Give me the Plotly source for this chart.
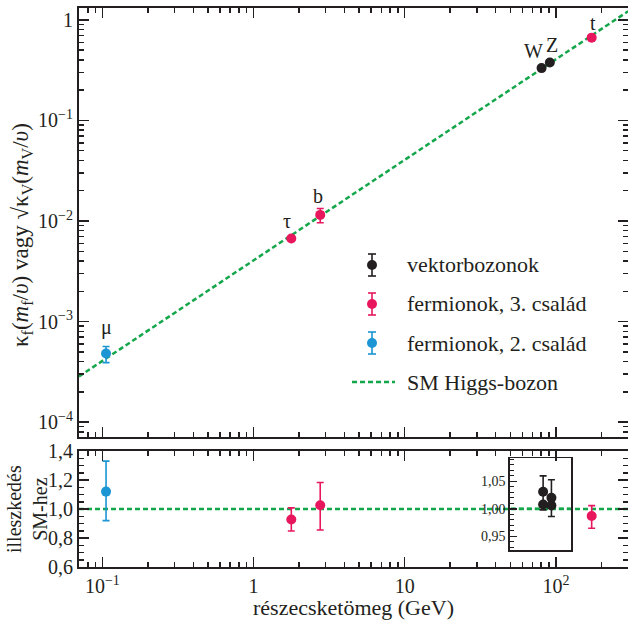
import math
import plotly.graph_objects as go

# ---------------- data ----------------
f2_mass = [0.1057]
f2_coupling = [4.8e-4]
f2_cpl_plus = [0.85e-4]
f2_cpl_minus = [0.9e-4]
f2_ratio = [1.12]
f2_ratio_plus = [0.21]
f2_ratio_minus = [0.20]
f2_names = ["μ"]

f3_mass = [1.777, 2.76, 172.5]
f3_coupling = [6.7e-3, 1.15e-2, 0.667]
f3_cpl_plus = [0.3e-3, 0.18e-2, 0.03]
f3_cpl_minus = [0.3e-3, 0.19e-2, 0.03]
f3_ratio = [0.928, 1.026, 0.952]
f3_ratio_plus = [0.08, 0.157, 0.071]
f3_ratio_minus = [0.08, 0.171, 0.085]
f3_names = ["τ", "b", "t"]

v_mass = [80.4, 91.2]
v_coupling = [0.332, 0.377]
v_cpl_err = [0.004, 0.004]
v_ratio_upper = [1.031, 1.020]
v_ratio_upper_plus = [0.029, 0.033]
v_ratio_upper_minus = [0.033, 0.034]
v_ratio_lower = [1.008, 1.006]
v_names = ["W", "Z"]

sm_mass = [0.07, 300]
sm_coupling = [2.84e-4, 1.218]
sm_ratio = [1.0, 1.0]

legend_names = ["vektorbozonok", "fermionok, 3. család", "fermionok, 2. család", "SM Higgs-bozon"]

x_tickvals = [0.1, 1, 10, 100]
x_ticktext = ["10<sup>−1</sup>", "1", "10", "10<sup>2</sup>"]
y_tickvals = [1e-4, 1e-3, 1e-2, 1e-1, 1]
y_ticktext = ["10<sup>−4</sup>", "10<sup>−3</sup>", "10<sup>−2</sup>", "10<sup>−1</sup>", "1"]
r_tickvals = [0.6, 0.8, 1.0, 1.2, 1.4]
r_ticktext = ["0,6", "0,8", "1,0", "1,2", "1,4"]
i_tickvals = [0.95, 1.00, 1.05]
i_ticktext = ["0,95", "1,00", "1,05"]

# ---------------- style ----------------
BLACK = "#231f20"
RED = "#e8175d"
BLUE = "#1b95d4"
GREEN = "#14a64a"
FONT = "Liberation Serif"
W, H = 628, 625
DASH = "5px,3px"

x_minor = [m * 10 ** e for e in range(-2, 3) for m in range(2, 10) if 0.07 < m * 10 ** e < 300]
y_minor = [m * 10 ** e for e in range(-5, 1) for m in range(2, 10) if 7e-5 < m * 10 ** e < 1.3]

def err(plus, minus, color):
    return dict(type="data", symmetric=False, array=plus, arrayminus=minus,
                color=color, thickness=1.6, width=3.5)

fig = go.Figure()

# SM reference lines
for xa, ya, ys in [("x", "y", sm_coupling), ("x2", "y2", sm_ratio), ("x3", "y3", sm_ratio)]:
    fig.add_trace(go.Scatter(x=sm_mass, y=ys, mode="lines", showlegend=False,
                             line=dict(color=GREEN, width=2.5, dash=DASH),
                             xaxis=xa, yaxis=ya))

# main panel points
fig.add_trace(go.Scatter(x=v_mass, y=v_coupling, mode="markers", name=legend_names[0],
                         marker=dict(color=BLACK, size=10), showlegend=False,
                         error_y=err(v_cpl_err, v_cpl_err, BLACK), xaxis="x", yaxis="y"))
fig.add_trace(go.Scatter(x=f3_mass, y=f3_coupling, mode="markers", name=legend_names[1],
                         marker=dict(color=RED, size=10), showlegend=False,
                         error_y=err(f3_cpl_plus, f3_cpl_minus, RED), xaxis="x", yaxis="y"))
fig.add_trace(go.Scatter(x=f2_mass, y=f2_coupling, mode="markers", name=legend_names[2],
                         marker=dict(color=BLUE, size=10), showlegend=False,
                         error_y=err(f2_cpl_plus, f2_cpl_minus, BLUE), xaxis="x", yaxis="y"))

# ratio panel points
fig.add_trace(go.Scatter(x=f3_mass, y=f3_ratio, mode="markers", showlegend=False,
                         marker=dict(color=RED, size=10),
                         error_y=err(f3_ratio_plus, f3_ratio_minus, RED),
                         xaxis="x2", yaxis="y2"))
fig.add_trace(go.Scatter(x=f2_mass, y=f2_ratio, mode="markers", showlegend=False,
                         marker=dict(color=BLUE, size=10),
                         error_y=err(f2_ratio_plus, f2_ratio_minus, BLUE),
                         xaxis="x2", yaxis="y2"))

# inset points
fig.add_trace(go.Scatter(x=v_mass, y=v_ratio_upper, mode="markers", showlegend=False,
                         marker=dict(color=BLACK, size=10),
                         error_y=err(v_ratio_upper_plus, v_ratio_upper_minus, BLACK),
                         xaxis="x3", yaxis="y3"))
fig.add_trace(go.Scatter(x=v_mass, y=v_ratio_lower, mode="markers", showlegend=False,
                         marker=dict(color=BLACK, size=10),
                         xaxis="x3", yaxis="y3"))

# particle labels
label_shift = {"μ": (0, 26), "τ": (-4, 17), "b": (-2, 19), "t": (1, 15), "W": (-8, 17), "Z": (2, 18)}
for names, xs, ys in [(f2_names, f2_mass, f2_coupling), (f3_names, f3_mass, f3_coupling),
                      (v_names, v_mass, v_coupling)]:
    for n, xv, yv in zip(names, xs, ys):
        dx, dy = label_shift[n]
        fig.add_annotation(x=math.log10(xv), y=math.log10(yv), xref="x", yref="y", text=n,
                           showarrow=False, xshift=dx, yshift=dy,
                           xanchor="center", yanchor="middle",
                           font=dict(family=FONT, size=20, color=BLACK))

# ---------------- hand-drawn legend (symbols with error bars, like the reference) ----------------
def px(x):
    return x / W

def py(y):
    return 1 - y / H

LEG_X, LEG_TX, LEG_ROW0, LEG_DY = 372, 405, 265, 39
shapes = []
for i, (name, col) in enumerate(zip(legend_names, [BLACK, RED, BLUE, None])):
    yc = LEG_ROW0 + i * LEG_DY
    if col is not None:
        shapes.append(dict(type="line", xref="paper", yref="paper", x0=px(LEG_X), x1=px(LEG_X),
                           y0=py(yc - 11), y1=py(yc + 11), line=dict(color=col, width=1.6)))
        for yy in (yc - 11, yc + 11):
            shapes.append(dict(type="line", xref="paper", yref="paper", x0=px(LEG_X - 4),
                               x1=px(LEG_X + 4), y0=py(yy), y1=py(yy),
                               line=dict(color=col, width=1.6)))
        shapes.append(dict(type="circle", xref="paper", yref="paper", x0=px(LEG_X - 5),
                           x1=px(LEG_X + 5), y0=py(yc + 5), y1=py(yc - 5),
                           fillcolor=col, line=dict(color=col, width=0)))
    else:
        shapes.append(dict(type="line", xref="paper", yref="paper", x0=px(352), x1=px(395),
                           y0=py(yc), y1=py(yc), line=dict(color=GREEN, width=2.5, dash=DASH)))
    fig.add_annotation(x=px(LEG_TX), y=py(yc), xref="paper", yref="paper", text=name,
                       showarrow=False, xanchor="left", yanchor="middle",
                       font=dict(family=FONT, size=22, color=BLACK))

# axis titles
fig.add_annotation(x=px(22), y=py(235), xref="paper", yref="paper", textangle=-90,
                   xanchor="center", yanchor="middle",
                   text="κ<sub>f</sub>(<i>m</i><sub>f</sub>/<i>υ</i>) vagy √κ<sub>V</sub>(<i>m</i><sub>V</sub>/<i>υ</i>)",
                   showarrow=False, font=dict(family=FONT, size=23, color=BLACK))
fig.add_annotation(x=px(27), y=py(509), xref="paper", yref="paper", textangle=-90,
                   xanchor="center", yanchor="middle",
                   text="illeszkedés<br>SM-hez", showarrow=False,
                   font=dict(family=FONT, size=20, color=BLACK))
fig.add_annotation(x=px(353), y=py(607), xref="paper", yref="paper",
                   xanchor="center", yanchor="middle",
                   text="részecsketömeg (GeV)", showarrow=False,
                   font=dict(family=FONT, size=22, color=BLACK))

xrange = [math.log10(0.07), math.log10(300)]
xdom = [79 / W, 1.0]
common = dict(showline=True, linecolor=BLACK, linewidth=2, ticks="inside", tickcolor=BLACK,
              tickwidth=1.5, ticklen=10, showgrid=False, zeroline=False, automargin=False,
              tickfont=dict(family=FONT, size=20, color=BLACK))

fig.update_layout(
    width=W, height=H, margin=dict(l=0, r=0, t=0, b=0, autoexpand=False),
    paper_bgcolor="white", plot_bgcolor="rgba(0,0,0,0)",
    font=dict(family=FONT, color=BLACK),
    showlegend=False, shapes=shapes,
    xaxis=dict(common, type="log", range=xrange, domain=xdom, anchor="y", mirror="allticks",
               tickvals=x_tickvals, ticktext=x_ticktext, showticklabels=False,
               minor=dict(tickmode="array", tickvals=x_minor, ticks="inside", ticklen=5,
                          tickcolor=BLACK, tickwidth=1.5)),
    yaxis=dict(common, type="log", range=[-4.149, 0.119], domain=[1 - 437 / H, 1 - 8 / H],
               anchor="x", mirror="allticks", tickvals=y_tickvals, ticktext=y_ticktext,
               minor=dict(tickmode="array", tickvals=y_minor, ticks="inside", ticklen=5,
                          tickcolor=BLACK, tickwidth=1.5)),
    xaxis2=dict(common, type="log", range=xrange, domain=xdom, anchor="y2", mirror="allticks",
                tickvals=x_tickvals, ticktext=x_ticktext,
                minor=dict(tickmode="array", tickvals=x_minor, ticks="inside", ticklen=5,
                           tickcolor=BLACK, tickwidth=1.5)),
    yaxis2=dict(common, range=[0.6, 1.4], domain=[1 - 567 / H, 1 - 451 / H], anchor="x2",
                mirror="allticks", tickvals=r_tickvals, ticktext=r_ticktext,
                minor=dict(dtick=0.05, ticks="inside", ticklen=5, tickcolor=BLACK, tickwidth=1.5)),
    xaxis3=dict(showline=True, linecolor=BLACK, linewidth=1.8, mirror=True, ticks="",
                showticklabels=False, showgrid=False, zeroline=False, type="log",
                range=[1.687, 2.087], domain=[510 / W, 570.7 / W], anchor="y3"),
    yaxis3=dict(showline=True, linecolor=BLACK, linewidth=1.8, mirror=True, ticks="inside",
                tickcolor=BLACK, tickwidth=1.5, ticklen=7, showgrid=False, zeroline=False,
                range=[0.925, 1.092], domain=[1 - 550 / H, 1 - 458.3 / H], anchor="x3",
                tickvals=i_tickvals, ticktext=i_ticktext,
                tickfont=dict(family=FONT, size=14, color=BLACK),
                minor=dict(dtick=0.01, ticks="inside", ticklen=4, tickcolor=BLACK, tickwidth=1.2)),
)

fig.write_html("out.html", config={"displayModeBar": False, "staticPlot": True},
               post_script="document.body.style.margin='0px';document.body.style.overflow='hidden';")
